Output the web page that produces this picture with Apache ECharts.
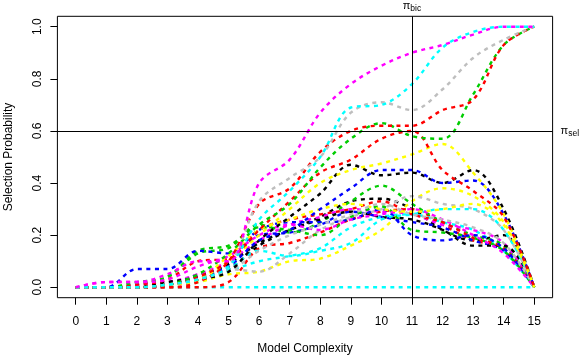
<!DOCTYPE html>
<html>
<head>
<meta charset="utf-8">
<script src="https://cdn.jsdelivr.net/npm/echarts@6/dist/echarts.min.js"></script>
<style>html,body{margin:0;padding:0;background:#fff}#c{width:582px;height:359px}</style>
</head>
<body>
<div id="c"></div>
<script>
const xValues = [0,1,2,3,4,5,6,7,8,9,10,11,12,13,14,15];
const xTicks = [0,1,2,3,4,5,6,7,8,9,10,11,12,13,14,15];
const yTicks = [0,0.2,0.4,0.6,0.8,1.0];
const piSel = 0.6;
const piBic = 11;

const zeroCyan = [0,0,0,0,0,0,0,0,0,0,0,0,0,0,0,0];
const black2   = [0,0,0,0.01,0.03,0.07,0.16,0.22,0.27,0.33,0.34,0.30,0.22,0.18,0.20,0];
const red3     = [0,0,0,0,0,0.02,0.15,0.17,0.21,0.26,0.29,0.30,0.24,0.18,0.15,0];
const green2   = [0,0,0.01,0.04,0.13,0.15,0.24,0.21,0.25,0.33,0.39,0.32,0.25,0.20,0.16,0];
const blue3    = [0,0,0,0.01,0.05,0.09,0.20,0.21,0.24,0.29,0.27,0.25,0.23,0.18,0.14,0];
const cyan3    = [0,0,0,0.01,0.02,0.06,0.10,0.12,0.15,0.23,0.27,0.28,0.25,0.22,0.14,0];
const magenta2 = [0,0,0.01,0.02,0.05,0.10,0.18,0.24,0.27,0.30,0.29,0.28,0.24,0.22,0.17,0];
const yellow2  = [0,0,0,0.01,0.02,0.05,0.06,0.10,0.11,0.16,0.22,0.33,0.38,0.35,0.25,0];
const gray2    = [0,0,0,0.01,0.03,0.07,0.06,0.13,0.22,0.27,0.30,0.35,0.32,0.30,0.22,0];
const black3   = [0,0,0,0.02,0.04,0.09,0.17,0.22,0.26,0.29,0.27,0.26,0.22,0.16,0.16,0];
const red4     = [0,0,0.01,0.03,0.10,0.11,0.22,0.26,0.28,0.30,0.33,0.28,0.25,0.19,0.15,0];
const green3   = [0,0,0.02,0.04,0.14,0.16,0.23,0.22,0.20,0.27,0.31,0.22,0.21,0.19,0.14,0];
const blue2    = [0,0,0.07,0.07,0.14,0.13,0.22,0.25,0.25,0.26,0.30,0.20,0.18,0.20,0.15,0];
const cyan2    = [0,0,0,0.01,0.03,0.07,0.14,0.12,0.14,0.17,0.26,0.28,0.30,0.30,0.22,0];
const magenta3 = [0,0.02,0.02,0.03,0.08,0.12,0.20,0.24,0.22,0.26,0.28,0.30,0.26,0.20,0.13,0];
const yellow3  = [0,0,0,0.01,0.03,0.12,0.22,0.26,0.30,0.32,0.30,0.29,0.30,0.32,0.24,0];
const gray3    = [0,0,0,0.01,0.03,0.06,0.14,0.20,0.24,0.28,0.32,0.28,0.26,0.23,0.17,0];
const black1   = [0,0,0,0.01,0.03,0.06,0.18,0.27,0.36,0.47,0.43,0.44,0.40,0.45,0.30,0];
const blue1    = [0,0,0,0.01,0.04,0.08,0.18,0.22,0.30,0.38,0.45,0.45,0.40,0.41,0.28,0];
const yellow1  = [0,0,0,0.01,0.03,0.10,0.20,0.30,0.40,0.45,0.475,0.51,0.55,0.44,0.28,0];
const red2     = [0,0,0,0.01,0.04,0.10,0.22,0.33,0.44,0.49,0.57,0.60,0.45,0.37,0.27,0];
const green1   = [0,0,0,0.01,0.05,0.13,0.24,0.32,0.46,0.57,0.63,0.58,0.57,0.74,0.93,1.0];
const red1     = [0,0,0,0,0.02,0.10,0.32,0.38,0.52,0.60,0.62,0.62,0.68,0.72,0.93,1.0];
const gray1    = [0,0,0,0.01,0.03,0.08,0.33,0.42,0.50,0.67,0.71,0.68,0.76,0.88,0.95,1.0];
const cyan1    = [0,0,0,0.01,0.03,0.08,0.26,0.37,0.50,0.69,0.70,0.78,0.92,0.98,1.0,1.0];
const magenta1 = [0,0.02,0.02,0.05,0.10,0.10,0.40,0.49,0.67,0.78,0.85,0.90,0.93,0.97,1.0,1.0];

const C = {black:'#000000', red:'#FF0000', green:'#00CD00', blue:'#0000FF', cyan:'#00FFFF', magenta:'#FF00FF', yellow:'#FFFF00', gray:'#BEBEBE'};

const lines = [
  [zeroCyan, C.cyan],
  [black2, C.black], [red3, C.red], [green2, C.green], [blue3, C.blue],
  [cyan3, C.cyan], [magenta2, C.magenta], [yellow2, C.yellow], [gray2, C.gray],
  [black3, C.black], [red4, C.red], [green3, C.green], [blue2, C.blue],
  [cyan2, C.cyan], [magenta3, C.magenta], [yellow3, C.yellow], [gray3, C.gray],
  [black1, C.black], [blue1, C.blue], [yellow1, C.yellow], [red2, C.red],
  [green1, C.green], [red1, C.red], [gray1, C.gray], [cyan1, C.cyan], [magenta1, C.magenta]
];

const series = lines.map(function (l) {
  return {
    type: 'line',
    data: xValues.map(function (x, i) { return [x, l[0][i]]; }),
    showSymbol: false,
    smooth: 0.35,
    silent: true,
    lineStyle: { color: l[1], width: 2.4, type: [4, 4.5], cap: 'butt' }
  };
});

series.push({
  type: 'line',
  data: [],
  silent: true,
  markLine: {
    silent: true,
    symbol: ['none', 'none'],
    animation: false,
    lineStyle: { color: '#000', type: 'solid', width: 1 },
    data: [
      { xAxis: piBic, label: { show: true, position: 'end', distance: 3, formatter: '{p|π}{s|bic}',
        rich: { p: { fontSize: 11, color: '#000', fontFamily: 'Liberation Sans' }, s: { fontSize: 8.5, color: '#000', fontFamily: 'Liberation Sans', padding: [5, 0, 0, 0] } } } },
      { yAxis: piSel, label: { show: true, position: 'end', distance: 8, formatter: '{p|π}{s|sel}',
        rich: { p: { fontSize: 11, color: '#000', fontFamily: 'Liberation Sans' }, s: { fontSize: 8.5, color: '#000', fontFamily: 'Liberation Sans', padding: [5, 0, 0, 0] } } } }
    ]
  }
});

const chart = echarts.init(document.getElementById('c'), null, { renderer: 'canvas' });
chart.setOption({
  animation: false,
  backgroundColor: '#fff',
  grid: { left: 57.4, top: 16.3, width: 495.2, height: 281.4, show: true, borderColor: '#000', borderWidth: 1,
    containLabel: false, outerBoundsMode: 'none' },
  xAxis: {
    type: 'value', min: -0.6, max: 15.6,
    name: 'Model Complexity', nameLocation: 'middle', nameGap: 45,
    nameTextStyle: { fontSize: 12, color: '#000', fontFamily: 'Liberation Sans' },
    axisLine: { show: false, onZero: false },
    axisTick: { show: true, length: 7, customValues: xTicks, lineStyle: { color: '#000' } },
    axisLabel: { customValues: xTicks, margin: 18, fontSize: 12, color: '#000', fontFamily: 'Liberation Sans' },
    splitLine: { show: false }
  },
  yAxis: {
    type: 'value', min: -0.04, max: 1.04,
    name: 'Selection Probability', nameLocation: 'middle', nameGap: 43,
    nameTextStyle: { fontSize: 12, color: '#000', fontFamily: 'Liberation Sans' },
    axisLine: { show: false, onZero: false },
    axisTick: { show: true, length: 7, customValues: yTicks, lineStyle: { color: '#000' } },
    axisLabel: { customValues: yTicks, rotate: 90, margin: 14, fontSize: 12, color: '#000', fontFamily: 'Liberation Sans',
      formatter: function (v) { return v.toFixed(1); } },
    splitLine: { show: false }
  },
  series: series
});
</script>
</body>
</html>
